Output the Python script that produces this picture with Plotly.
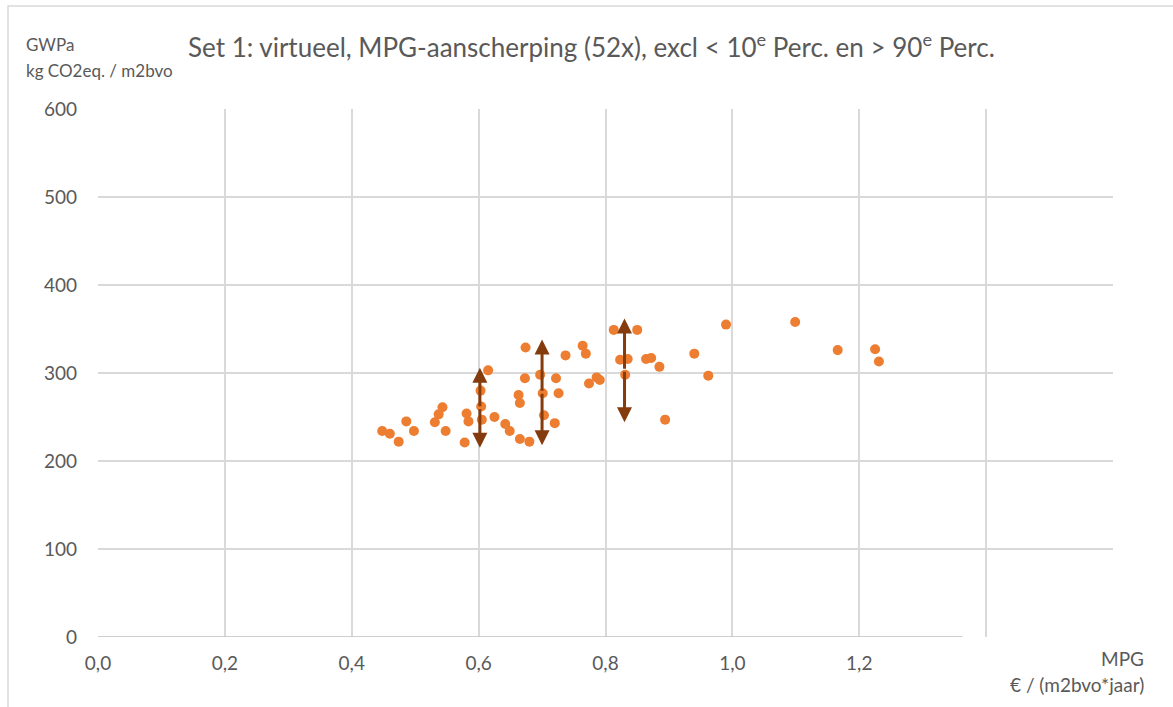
import plotly.graph_objects as go

# MPG (€/(m2bvo*jaar)) and GWPa (kg CO2eq./m2bvo)
mpg = [0.448, 0.460, 0.474, 0.486, 0.498, 0.531, 0.537, 0.543, 0.548, 0.578,
       0.581, 0.584, 0.603, 0.604, 0.605, 0.615, 0.625, 0.642, 0.649, 0.663,
       0.665, 0.665, 0.674, 0.673, 0.680, 0.697, 0.701, 0.703, 0.722, 0.720,
       0.726, 0.737, 0.764, 0.769, 0.774, 0.786, 0.791, 0.813, 0.850, 0.823,
       0.835, 0.831, 0.864, 0.872, 0.885, 0.894, 0.940, 0.962, 0.990, 1.099,
       1.166, 1.225, 1.231]
gwpa = [234, 231, 222, 245, 234, 244, 253, 261, 234, 221,
        254, 245, 280, 262, 247, 303, 250, 242, 234, 275,
        266, 225, 329, 294, 222, 298, 277, 252, 294, 243,
        277, 320, 331, 322, 288, 295, 292, 349, 349, 315,
        316, 298, 316, 317, 307, 247, 322, 297, 355, 358,
        326, 327, 313]

# range arrows (x, bottom, top)
arrow_x = [0.602, 0.700, 0.830]
arrow_lo = [215, 218, 244]
arrow_hi = [306, 338, 362]

x_ticks = [0.0, 0.2, 0.4, 0.6, 0.8, 1.0, 1.2, 1.4, 1.6]
x_labels = ["0,0", "0,2", "0,4", "0,6", "0,8", "1,0", "1,2", " ", " "]
y_ticks = [0, 100, 200, 300, 400, 500, 600]

title_text = ("Set 1: virtueel, MPG-aanscherping (52x), excl &lt; 10<sup>e</sup> Perc. "
              "en &gt; 90<sup>e</sup> Perc.")

FONT = "Lato"
GREY = "#595959"
GRID = "#D9D9D9"

W, H = 1173, 707
L, R, T, B = 98, 60, 109, 70
PW, PH = W - L - R, H - T - B

def px(xp, yp):
    """pixel position in the figure -> paper coordinates"""
    return (xp - L) / PW, (H - B - yp) / PH

fig = go.Figure()
fig.add_trace(go.Scatter(
    x=mpg, y=gwpa, mode="markers",
    marker=dict(color="#ED7D31", size=10, line=dict(width=0)),
    showlegend=False, hoverinfo="x+y"))

for ax_, lo, hi in zip(arrow_x, arrow_lo, arrow_hi):
    mid = (lo + hi) / 2
    for tip in (lo, hi):
        fig.add_annotation(
            x=ax_, y=tip, ax=ax_, ay=mid, xref="x", yref="y", axref="x", ayref="y",
            showarrow=True, arrowhead=2, arrowsize=1.0, arrowwidth=3,
            arrowcolor="#843C0C", text="")

for text, xp, yp, size, xanchor in [
    (title_text, 591, 45, 26, "center"),
    ("GWPa", 24, 44, 17, "left"),
    ("kg CO2eq. / m2bvo", 24, 71, 17, "left"),
    ("MPG", 1146, 658, 19, "right"),
    ("€ / (m2bvo*jaar)", 1146, 684, 19, "right"),
]:
    xx, yy = px(xp, yp)
    fig.add_annotation(text=text, x=xx, y=yy, xref="paper", yref="paper",
                       xanchor=xanchor, yanchor="middle", showarrow=False,
                       font=dict(family=FONT, size=size, color=GREY))

fig.update_layout(
    width=W, height=H,
    margin=dict(l=L, r=R, t=T, b=B),
    paper_bgcolor="white", plot_bgcolor="white",
    separators=",.",
    font=dict(family=FONT, color=GREY),
    xaxis=dict(range=[0, 1.6], tickvals=x_ticks, ticktext=x_labels,
               showgrid=True, gridcolor=GRID, gridwidth=1.5, zeroline=False,
               showline=False, ticks="", tickfont=dict(size=19, color=GREY),
               ticklabelstandoff=13),
    yaxis=dict(range=[0, 600], tickvals=y_ticks, showgrid=True, gridcolor=GRID,
               gridwidth=1.5, zeroline=False, showline=False, ticks="",
               tickfont=dict(size=19, color=GREY), ticklabelstandoff=20),
)

# x axis baseline (partially hidden in the original)
fig.add_shape(type="line", xref="x", yref="y", x0=0, x1=1.363, y0=0, y1=0,
              line=dict(color="#BFBFBF", width=1.5))
# chart border
bx0, by0 = px(8, 720)
bx1, by1 = px(1190, 6)
fig.add_shape(type="rect", xref="paper", yref="paper",
              x0=bx0, x1=bx1, y0=by0, y1=by1,
              line=dict(color=GRID, width=1.5), layer="below")

fig.write_html("out.html", config={"displayModeBar": False},
               post_script="document.body.style.margin='0';")
